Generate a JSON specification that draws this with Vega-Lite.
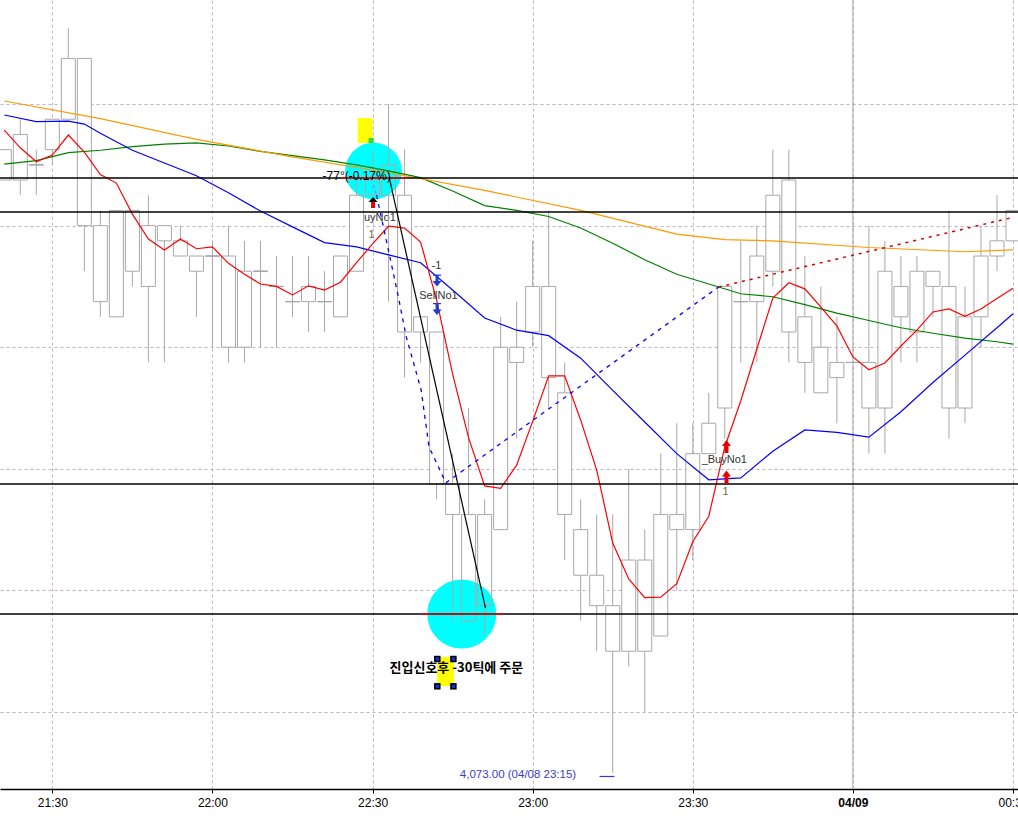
{
"$schema": "https://vega.github.io/schema/vega-lite/v6.json",
"width": 1018, "height": 789,
"autosize": {"type": "none"},
"padding": {"left": 0, "top": 0, "right": 0, "bottom": 28},
"background": "white",
"config": {"view": {"stroke": null},
 "axisX": {"labelFlush": false, "labelOverlap": false, "labelFont": "Liberation Sans", "labelFontSize": 12, "labelColor": "#000000", "labelPadding": 4, "grid": true, "gridDash": [3,3], "gridColor": "#c4b0c4", "gridWidth": 1, "domainColor": "#000000", "domainWidth": 1.5, "tickColor": "#000000", "tickSize": 4, "title": null},
 "axisY": {"labels": false, "ticks": false, "domain": false, "grid": true, "gridDash": [3,3], "gridColor": "#c4b0c4", "gridWidth": 1, "title": null}},
"datasets": {
"candles": [
{"t":"2021-04-08T21:21:00Z","high":4083.25,"low":4082.75,"top":4083.25,"bottom":4082.75},
{"t":"2021-04-08T21:24:00Z","high":4083.75,"low":4082.5,"top":4083.5,"bottom":4082.75},
{"t":"2021-04-08T21:27:00Z","high":4083.25,"low":4082.5,"top":4083.0,"bottom":4083.0},
{"t":"2021-04-08T21:30:00Z","high":4083.75,"low":4083.0,"top":4083.75,"bottom":4083.25},
{"t":"2021-04-08T21:33:00Z","high":4085.25,"low":4083.75,"top":4084.75,"bottom":4083.75},
{"t":"2021-04-08T21:36:00Z","high":4084.75,"low":4081.25,"top":4084.75,"bottom":4082.0},
{"t":"2021-04-08T21:39:00Z","high":4082.25,"low":4080.5,"top":4082.0,"bottom":4080.75},
{"t":"2021-04-08T21:42:00Z","high":4082.25,"low":4080.5,"top":4082.25,"bottom":4080.5},
{"t":"2021-04-08T21:45:00Z","high":4082.25,"low":4081.0,"top":4082.25,"bottom":4081.25},
{"t":"2021-04-08T21:48:00Z","high":4082.5,"low":4079.75,"top":4082.0,"bottom":4081.0},
{"t":"2021-04-08T21:51:00Z","high":4082.0,"low":4079.75,"top":4082.0,"bottom":4081.75},
{"t":"2021-04-08T21:54:00Z","high":4082.0,"low":4081.5,"top":4081.75,"bottom":4081.5},
{"t":"2021-04-08T21:57:00Z","high":4081.5,"low":4080.5,"top":4081.5,"bottom":4081.25},
{"t":"2021-04-08T22:00:00Z","high":4081.75,"low":4080.0,"top":4081.5,"bottom":4081.5},
{"t":"2021-04-08T22:03:00Z","high":4082.0,"low":4079.75,"top":4081.5,"bottom":4080.0},
{"t":"2021-04-08T22:06:00Z","high":4081.75,"low":4079.75,"top":4081.25,"bottom":4080.0},
{"t":"2021-04-08T22:09:00Z","high":4081.75,"low":4080.0,"top":4081.25,"bottom":4081.25},
{"t":"2021-04-08T22:12:00Z","high":4081.5,"low":4080.0,"top":4081.0,"bottom":4081.0},
{"t":"2021-04-08T22:15:00Z","high":4081.5,"low":4080.5,"top":4080.75,"bottom":4080.75},
{"t":"2021-04-08T22:18:00Z","high":4081.5,"low":4080.25,"top":4081.0,"bottom":4080.75},
{"t":"2021-04-08T22:21:00Z","high":4081.25,"low":4080.25,"top":4080.75,"bottom":4080.75},
{"t":"2021-04-08T22:24:00Z","high":4081.5,"low":4080.5,"top":4081.5,"bottom":4080.5},
{"t":"2021-04-08T22:27:00Z","high":4082.75,"low":4081.25,"top":4082.5,"bottom":4081.25},
{"t":"2021-04-08T22:30:00Z","high":4083.25,"low":4082.5,"top":4082.75,"bottom":4082.5},
{"t":"2021-04-08T22:33:00Z","high":4084.0,"low":4080.75,"top":4083.0,"bottom":4082.5},
{"t":"2021-04-08T22:36:00Z","high":4083.25,"low":4079.5,"top":4082.5,"bottom":4080.25},
{"t":"2021-04-08T22:39:00Z","high":4080.5,"low":4079.75,"top":4080.5,"bottom":4080.25},
{"t":"2021-04-08T22:42:00Z","high":4080.25,"low":4077.5,"top":4080.25,"bottom":4077.75},
{"t":"2021-04-08T22:45:00Z","high":4078.25,"low":4075.5,"top":4077.75,"bottom":4077.25},
{"t":"2021-04-08T22:48:00Z","high":4079.0,"low":4075.5,"top":4077.25,"bottom":4075.5},
{"t":"2021-04-08T22:51:00Z","high":4077.5,"low":4075.25,"top":4077.25,"bottom":4075.75},
{"t":"2021-04-08T22:54:00Z","high":4080.5,"low":4077.0,"top":4080.0,"bottom":4077.0},
{"t":"2021-04-08T22:57:00Z","high":4080.75,"low":4078.5,"top":4080.0,"bottom":4079.75},
{"t":"2021-04-08T23:00:00Z","high":4081.75,"low":4080.0,"top":4081.0,"bottom":4080.25},
{"t":"2021-04-08T23:03:00Z","high":4082.25,"low":4079.0,"top":4081.0,"bottom":4079.5},
{"t":"2021-04-08T23:06:00Z","high":4079.75,"low":4076.5,"top":4079.25,"bottom":4077.25},
{"t":"2021-04-08T23:09:00Z","high":4077.5,"low":4075.5,"top":4077.0,"bottom":4076.25},
{"t":"2021-04-08T23:12:00Z","high":4077.25,"low":4075.0,"top":4076.25,"bottom":4075.75},
{"t":"2021-04-08T23:15:00Z","high":4077.25,"low":4073.0,"top":4075.75,"bottom":4075.0},
{"t":"2021-04-08T23:18:00Z","high":4078.0,"low":4074.75,"top":4076.5,"bottom":4075.0},
{"t":"2021-04-08T23:21:00Z","high":4077.0,"low":4074.0,"top":4076.5,"bottom":4075.0},
{"t":"2021-04-08T23:24:00Z","high":4078.25,"low":4075.25,"top":4077.25,"bottom":4075.25},
{"t":"2021-04-08T23:27:00Z","high":4078.75,"low":4076.0,"top":4077.25,"bottom":4077.0},
{"t":"2021-04-08T23:30:00Z","high":4078.75,"low":4076.5,"top":4078.25,"bottom":4077.0},
{"t":"2021-04-08T23:33:00Z","high":4079.25,"low":4078.25,"top":4078.75,"bottom":4078.25},
{"t":"2021-04-08T23:36:00Z","high":4081.0,"low":4078.5,"top":4081.0,"bottom":4079.0},
{"t":"2021-04-08T23:39:00Z","high":4081.75,"low":4079.75,"top":4080.75,"bottom":4080.75},
{"t":"2021-04-08T23:42:00Z","high":4082.0,"low":4079.75,"top":4081.5,"bottom":4080.75},
{"t":"2021-04-08T23:45:00Z","high":4083.25,"low":4081.0,"top":4082.5,"bottom":4081.25},
{"t":"2021-04-08T23:48:00Z","high":4083.25,"low":4079.75,"top":4082.75,"bottom":4080.25},
{"t":"2021-04-08T23:51:00Z","high":4081.5,"low":4079.25,"top":4080.5,"bottom":4079.75},
{"t":"2021-04-08T23:54:00Z","high":4081.0,"low":4079.25,"top":4080.0,"bottom":4079.25},
{"t":"2021-04-08T23:57:00Z","high":4080.5,"low":4078.75,"top":4079.75,"bottom":4079.5},
{"t":"2021-04-09T00:00:00Z","high":4079.75,"low":4079.75,"top":4079.75,"bottom":4079.75},
{"t":"2021-04-09T00:03:00Z","high":4082.0,"low":4078.25,"top":4079.75,"bottom":4079.0},
{"t":"2021-04-09T00:06:00Z","high":4081.75,"low":4078.25,"top":4081.25,"bottom":4079.0},
{"t":"2021-04-09T00:09:00Z","high":4081.5,"low":4079.75,"top":4081.0,"bottom":4080.5},
{"t":"2021-04-09T00:12:00Z","high":4081.5,"low":4079.75,"top":4081.25,"bottom":4080.25},
{"t":"2021-04-09T00:15:00Z","high":4081.25,"low":4080.5,"top":4081.25,"bottom":4081.0},
{"t":"2021-04-09T00:18:00Z","high":4082.25,"low":4078.5,"top":4081.0,"bottom":4079.0},
{"t":"2021-04-09T00:21:00Z","high":4081.0,"low":4078.75,"top":4080.5,"bottom":4079.0},
{"t":"2021-04-09T00:24:00Z","high":4082.0,"low":4080.0,"top":4081.5,"bottom":4080.5},
{"t":"2021-04-09T00:27:00Z","high":4082.5,"low":4081.25,"top":4081.75,"bottom":4081.5},
{"t":"2021-04-09T00:30:00Z","high":4082.25,"low":4081.75,"top":4082.25,"bottom":4081.75}
],
"orange": [
{"t":"2021-04-08T21:21:00Z","p":4084.05},{"t":"2021-04-08T21:39:00Z","p":4083.76},{"t":"2021-04-08T21:57:00Z","p":4083.42},{"t":"2021-04-08T22:15:00Z","p":4083.13},{"t":"2021-04-08T22:33:00Z","p":4082.87},{"t":"2021-04-08T22:51:00Z","p":4082.58},{"t":"2021-04-08T23:09:00Z","p":4082.25},{"t":"2021-04-08T23:27:00Z","p":4081.86},{"t":"2021-04-08T23:36:00Z","p":4081.77},{"t":"2021-04-08T23:45:00Z","p":4081.75},{"t":"2021-04-09T00:03:00Z","p":4081.64},{"t":"2021-04-09T00:21:00Z","p":4081.57},{"t":"2021-04-09T00:30:00Z","p":4081.6}
],
"green": [
{"t":"2021-04-08T21:21:00Z","p":4083.01},{"t":"2021-04-08T21:27:00Z","p":4083.07},{"t":"2021-04-08T21:33:00Z","p":4083.2},{"t":"2021-04-08T21:39:00Z","p":4083.24},{"t":"2021-04-08T21:45:00Z","p":4083.3},{"t":"2021-04-08T21:51:00Z","p":4083.34},{"t":"2021-04-08T21:57:00Z","p":4083.36},{"t":"2021-04-08T22:03:00Z","p":4083.31},{"t":"2021-04-08T22:09:00Z","p":4083.22},{"t":"2021-04-08T22:15:00Z","p":4083.15},{"t":"2021-04-08T22:21:00Z","p":4083.08},{"t":"2021-04-08T22:27:00Z","p":4083.0},{"t":"2021-04-08T22:33:00Z","p":4082.9},{"t":"2021-04-08T22:39:00Z","p":4082.79},{"t":"2021-04-08T22:45:00Z","p":4082.57},{"t":"2021-04-08T22:51:00Z","p":4082.33},{"t":"2021-04-08T22:57:00Z","p":4082.25},{"t":"2021-04-08T23:03:00Z","p":4082.15},{"t":"2021-04-08T23:09:00Z","p":4081.96},{"t":"2021-04-08T23:15:00Z","p":4081.71},{"t":"2021-04-08T23:21:00Z","p":4081.44},{"t":"2021-04-08T23:27:00Z","p":4081.2},{"t":"2021-04-08T23:33:00Z","p":4081.04},{"t":"2021-04-08T23:39:00Z","p":4080.88},{"t":"2021-04-08T23:45:00Z","p":4080.83},{"t":"2021-04-08T23:51:00Z","p":4080.7},{"t":"2021-04-08T23:57:00Z","p":4080.56},{"t":"2021-04-09T00:03:00Z","p":4080.44},{"t":"2021-04-09T00:09:00Z","p":4080.32},{"t":"2021-04-09T00:15:00Z","p":4080.23},{"t":"2021-04-09T00:21:00Z","p":4080.15},{"t":"2021-04-09T00:27:00Z","p":4080.09},{"t":"2021-04-09T00:30:00Z","p":4080.05}
],
"blue": [
{"t":"2021-04-08T21:21:00Z","p":4083.82},{"t":"2021-04-08T21:27:00Z","p":4083.71},{"t":"2021-04-08T21:33:00Z","p":4083.72},{"t":"2021-04-08T21:36:00Z","p":4083.67},{"t":"2021-04-08T21:39:00Z","p":4083.52},{"t":"2021-04-08T21:45:00Z","p":4083.24},{"t":"2021-04-08T21:51:00Z","p":4083.03},{"t":"2021-04-08T21:57:00Z","p":4082.82},{"t":"2021-04-08T22:03:00Z","p":4082.54},{"t":"2021-04-08T22:09:00Z","p":4082.24},{"t":"2021-04-08T22:15:00Z","p":4081.98},{"t":"2021-04-08T22:21:00Z","p":4081.72},{"t":"2021-04-08T22:27:00Z","p":4081.65},{"t":"2021-04-08T22:33:00Z","p":4081.52},{"t":"2021-04-08T22:39:00Z","p":4081.39},{"t":"2021-04-08T22:45:00Z","p":4080.94},{"t":"2021-04-08T22:51:00Z","p":4080.48},{"t":"2021-04-08T22:57:00Z","p":4080.28},{"t":"2021-04-08T23:03:00Z","p":4080.19},{"t":"2021-04-08T23:09:00Z","p":4079.82},{"t":"2021-04-08T23:15:00Z","p":4079.29},{"t":"2021-04-08T23:21:00Z","p":4078.77},{"t":"2021-04-08T23:27:00Z","p":4078.25},{"t":"2021-04-08T23:33:00Z","p":4077.82},{"t":"2021-04-08T23:39:00Z","p":4077.85},{"t":"2021-04-08T23:45:00Z","p":4078.29},{"t":"2021-04-08T23:51:00Z","p":4078.64},{"t":"2021-04-08T23:57:00Z","p":4078.6},{"t":"2021-04-09T00:03:00Z","p":4078.52},{"t":"2021-04-09T00:09:00Z","p":4078.94},{"t":"2021-04-09T00:15:00Z","p":4079.42},{"t":"2021-04-09T00:21:00Z","p":4079.87},{"t":"2021-04-09T00:27:00Z","p":4080.32},{"t":"2021-04-09T00:30:00Z","p":4080.55}
],
"red": [
{"t":"2021-04-08T21:21:00Z","p":4083.57},{"t":"2021-04-08T21:24:00Z","p":4083.28},{"t":"2021-04-08T21:27:00Z","p":4083.05},{"t":"2021-04-08T21:30:00Z","p":4083.16},{"t":"2021-04-08T21:33:00Z","p":4083.49},{"t":"2021-04-08T21:36:00Z","p":4083.21},{"t":"2021-04-08T21:39:00Z","p":4082.84},{"t":"2021-04-08T21:42:00Z","p":4082.7},{"t":"2021-04-08T21:45:00Z","p":4082.19},{"t":"2021-04-08T21:48:00Z","p":4081.78},{"t":"2021-04-08T21:51:00Z","p":4081.6},{"t":"2021-04-08T21:54:00Z","p":4081.78},{"t":"2021-04-08T21:57:00Z","p":4081.62},{"t":"2021-04-08T22:00:00Z","p":4081.65},{"t":"2021-04-08T22:03:00Z","p":4081.38},{"t":"2021-04-08T22:06:00Z","p":4081.2},{"t":"2021-04-08T22:09:00Z","p":4081.04},{"t":"2021-04-08T22:12:00Z","p":4081.0},{"t":"2021-04-08T22:15:00Z","p":4080.86},{"t":"2021-04-08T22:18:00Z","p":4081.01},{"t":"2021-04-08T22:21:00Z","p":4080.94},{"t":"2021-04-08T22:24:00Z","p":4081.07},{"t":"2021-04-08T22:27:00Z","p":4081.39},{"t":"2021-04-08T22:30:00Z","p":4081.7},{"t":"2021-04-08T22:33:00Z","p":4081.99},{"t":"2021-04-08T22:36:00Z","p":4081.96},{"t":"2021-04-08T22:39:00Z","p":4081.73},{"t":"2021-04-08T22:42:00Z","p":4080.78},{"t":"2021-04-08T22:45:00Z","p":4079.56},{"t":"2021-04-08T22:48:00Z","p":4078.51},{"t":"2021-04-08T22:51:00Z","p":4077.72},{"t":"2021-04-08T22:54:00Z","p":4077.68},{"t":"2021-04-08T22:57:00Z","p":4078.06},{"t":"2021-04-08T23:00:00Z","p":4078.78},{"t":"2021-04-08T23:03:00Z","p":4079.53},{"t":"2021-04-08T23:06:00Z","p":4079.53},{"t":"2021-04-08T23:09:00Z","p":4078.8},{"t":"2021-04-08T23:12:00Z","p":4077.98},{"t":"2021-04-08T23:15:00Z","p":4076.78},{"t":"2021-04-08T23:18:00Z","p":4076.19},{"t":"2021-04-08T23:21:00Z","p":4075.88},{"t":"2021-04-08T23:24:00Z","p":4075.89},{"t":"2021-04-08T23:27:00Z","p":4076.11},{"t":"2021-04-08T23:30:00Z","p":4076.8},{"t":"2021-04-08T23:33:00Z","p":4077.22},{"t":"2021-04-08T23:36:00Z","p":4078.36},{"t":"2021-04-08T23:39:00Z","p":4079.12},{"t":"2021-04-08T23:42:00Z","p":4079.97},{"t":"2021-04-08T23:45:00Z","p":4080.81},{"t":"2021-04-08T23:48:00Z","p":4081.06},{"t":"2021-04-08T23:51:00Z","p":4080.96},{"t":"2021-04-08T23:54:00Z","p":4080.66},{"t":"2021-04-08T23:57:00Z","p":4080.35},{"t":"2021-04-09T00:00:00Z","p":4079.84},{"t":"2021-04-09T00:03:00Z","p":4079.63},{"t":"2021-04-09T00:06:00Z","p":4079.74},{"t":"2021-04-09T00:09:00Z","p":4080.02},{"t":"2021-04-09T00:12:00Z","p":4080.28},{"t":"2021-04-09T00:15:00Z","p":4080.58},{"t":"2021-04-09T00:18:00Z","p":4080.63},{"t":"2021-04-09T00:21:00Z","p":4080.51},{"t":"2021-04-09T00:24:00Z","p":4080.63},{"t":"2021-04-09T00:27:00Z","p":4080.8},{"t":"2021-04-09T00:30:00Z","p":4080.97}
],
"hlines": [{"p":4082.783},{"p":4082.224},{"p":4077.75},{"p":4075.612}],
"dayline": [{"t":"2021-04-09T00:00:00Z"}],
"zig": [
{"t":"2021-04-08T22:30:45Z","p":4082.5},{"t":"2021-04-08T22:32:58Z","p":4081.6},{"t":"2021-04-08T22:34:50Z","p":4080.83},{"t":"2021-04-08T22:36:19Z","p":4080.17},{"t":"2021-04-08T22:39:06Z","p":4079.3},{"t":"2021-04-08T22:40:35Z","p":4078.36},{"t":"2021-04-08T22:43:45Z","p":4077.77},{"t":"2021-04-08T23:34:50Z","p":4080.99}
],
"zigred": [{"t":"2021-04-08T23:34:50Z","p":4080.99},{"t":"2021-04-09T00:30:11Z","p":4082.14}],
"pink": [{"t":"2021-04-08T22:30:08Z","p":4082.67},{"t":"2021-04-08T22:30:45Z","p":4082.5}],
"trend": [{"t":"2021-04-08T22:33:09Z","p":4082.78},{"t":"2021-04-08T22:51:10Z","p":4075.71}],
"circTop": [{"t":"2021-04-08T22:30:11Z","p":4082.898}],
"circBot": [{"t":"2021-04-08T22:46:43Z","p":4075.612}],
"redSeg": [{"t":"2021-04-08T22:24:15Z","t2":"2021-04-08T22:36:08Z","p":4082.783},{"t":"2021-04-08T22:39:06Z","t2":"2021-04-08T22:54:20Z","p":4075.612}],
"yellowTop": [{"t":"2021-04-08T22:27:13Z","t2":"2021-04-08T22:30:00Z","p":4083.77,"p2":4083.359}],
"greenTop": [{"t":"2021-04-08T22:29:15Z","t2":"2021-04-08T22:30:11Z","p":4083.441,"p2":4083.359}],
"yellowHu": [{"t":"2021-04-08T22:42:05Z","t2":"2021-04-08T22:45:14Z","p":4074.905,"p2":4074.428}],
"handles": [{"t":"2021-04-08T22:42:08Z","p":4074.872},{"t":"2021-04-08T22:45:09Z","p":4074.872},{"t":"2021-04-08T22:42:08Z","p":4074.423},{"t":"2021-04-08T22:45:09Z","p":4074.423}],
"angleText": [{"t":"2021-04-08T22:27:01Z","p":4082.82,"label":"-77°(-0.17%)"}],
"buyText": [{"t":"2021-04-08T22:27:01Z","p":4082.125,"label":"BuyNo1"}],
"sigText": [{"t":"2021-04-08T22:42:00Z","p":4081.336,"label":"-1"},{"t":"2021-04-08T22:42:21Z","p":4080.842,"label":"SellNo1"}],
"buy2Text": [{"t":"2021-04-08T23:31:40Z","p":4078.145,"label":"_BuyNo1"}],
"qtyText": [{"t":"2021-04-08T22:29:49Z","p":4081.845,"label":"1"},{"t":"2021-04-08T23:36:08Z","p":4077.618,"label":"1"}],
"korText": [{"t":"2021-04-08T22:45:42Z","p":4074.724,"label":"진입신호후 -30틱에 주문"}],
"lowText": [{"t":"2021-04-08T22:46:21Z","p":4072.964,"label":"4,073.00 (04/08 23:15)"}],
"lowLine": [{"t":"2021-04-08T23:12:32Z","t2":"2021-04-08T23:15:19Z","p":4072.94}],
"blackHead": [{"t":"2021-04-08T22:30:06Z","p":4082.429}],
"redShaft": [{"t":"2021-04-08T22:30:06Z","p":4082.339}],
"redUp": [{"t":"2021-04-08T23:36:19Z","p":4078.367},{"t":"2021-04-08T23:36:19Z","p":4077.865}],
"blueDown": [{"t":"2021-04-08T22:42:05Z","p":4081.097},{"t":"2021-04-08T22:42:05Z","p":4080.628}]
},
"layer": [
{"data":{"name":"buyText"},"mark":{"type":"text","align":"left","baseline":"middle","font":"Liberation Sans","fontSize":11,"color":"#333333"},
 "encoding":{
  "x":{"field":"t","type":"temporal","title":null,"scale":{"type":"utc","domain":[{"year":2021,"month":4,"date":8,"hours":21,"minutes":21,"seconds":8,"utc":true},{"year":2021,"month":4,"date":9,"hours":0,"minutes":30,"seconds":0,"utc":true}]},
   "axis":{"values":[{"year":2021,"month":4,"date":8,"hours":21,"minutes":30,"utc":true},{"year":2021,"month":4,"date":8,"hours":22,"minutes":0,"utc":true},{"year":2021,"month":4,"date":8,"hours":22,"minutes":30,"utc":true},{"year":2021,"month":4,"date":8,"hours":23,"minutes":0,"utc":true},{"year":2021,"month":4,"date":8,"hours":23,"minutes":30,"utc":true},{"year":2021,"month":4,"date":9,"hours":0,"minutes":0,"utc":true},{"year":2021,"month":4,"date":9,"hours":0,"minutes":30,"utc":true}],
    "labelExpr":"utcFormat(datum.value, '%H:%M') == '00:00' ? '04/09' : utcFormat(datum.value, '%H:%M')",
    "labelFontWeight":{"condition":{"test":"utchours(datum.value) == 0 && utcminutes(datum.value) == 0","value":"bold"},"value":"normal"},
    "title":null}},
  "y":{"field":"p","type":"quantitative","title":null,"scale":{"domain":[4072.734,4085.711],"nice":false,"zero":false},
   "axis":{"values":[4074,4076,4078,4080,4082,4084],"title":null}},
  "text":{"field":"label"}}},
{"data":{"name":"candles"},"mark":{"type":"bar","size":14,"fill":"white","strokeWidth":0,"clip":true},
 "encoding":{"x":{"field":"t","type":"temporal","title":null},"y":{"field":"top","type":"quantitative","title":null},"y2":{"field":"bottom"}}},
{"data":{"name":"dayline"},"mark":{"type":"rule","color":"#a8a8a8","strokeWidth":1},
 "encoding":{"x":{"field":"t","type":"temporal","title":null}}},
{"data":{"name":"circTop"},"mark":{"type":"circle","size":3217,"color":"#00ffff","opacity":1},
 "encoding":{"x":{"field":"t","type":"temporal","title":null},"y":{"field":"p","type":"quantitative","title":null}}},
{"data":{"name":"circBot"},"mark":{"type":"circle","size":4778,"color":"#00ffff","opacity":1},
 "encoding":{"x":{"field":"t","type":"temporal","title":null},"y":{"field":"p","type":"quantitative","title":null}}},
{"data":{"name":"yellowTop"},"mark":{"type":"rect","color":"#ffff00"},
 "encoding":{"x":{"field":"t","type":"temporal","title":null},"x2":{"field":"t2"},"y":{"field":"p","type":"quantitative","title":null},"y2":{"field":"p2"}}},
{"data":{"name":"greenTop"},"mark":{"type":"rect","color":"#33dd33"},
 "encoding":{"x":{"field":"t","type":"temporal","title":null},"x2":{"field":"t2"},"y":{"field":"p","type":"quantitative","title":null},"y2":{"field":"p2"}}},
{"data":{"name":"candles"},"mark":{"type":"rule","color":"#a8a8a8","strokeWidth":1,"clip":true},
 "encoding":{"x":{"field":"t","type":"temporal","title":null},"y":{"field":"high","type":"quantitative","title":null},"y2":{"field":"top"}}},
{"data":{"name":"candles"},"mark":{"type":"rule","color":"#a8a8a8","strokeWidth":1,"clip":true},
 "encoding":{"x":{"field":"t","type":"temporal","title":null},"y":{"field":"bottom","type":"quantitative","title":null},"y2":{"field":"low"}}},
{"data":{"name":"candles"},"mark":{"type":"bar","size":14,"fill":"transparent","stroke":"#a8a8a8","strokeWidth":1,"clip":true},
 "encoding":{"x":{"field":"t","type":"temporal","title":null},"y":{"field":"top","type":"quantitative","title":null},"y2":{"field":"bottom"}}},
{"data":{"name":"candles"},"transform":[{"filter":"datum.top == datum.bottom"}],"mark":{"type":"tick","orient":"horizontal","size":15,"thickness":1,"color":"#a8a8a8","opacity":1,"clip":true},
 "encoding":{"x":{"field":"t","type":"temporal","title":null},"y":{"field":"top","type":"quantitative","title":null}}},
{"data":{"name":"green"},"mark":{"type":"line","color":"#008000","strokeWidth":1.2,"clip":true},
 "encoding":{"x":{"field":"t","type":"temporal","title":null},"y":{"field":"p","type":"quantitative","title":null}}},
{"data":{"name":"orange"},"mark":{"type":"line","color":"#ff9900","strokeWidth":1.2,"clip":true},
 "encoding":{"x":{"field":"t","type":"temporal","title":null},"y":{"field":"p","type":"quantitative","title":null}}},
{"data":{"name":"blue"},"mark":{"type":"line","color":"#0000ff","strokeWidth":1.2,"clip":true},
 "encoding":{"x":{"field":"t","type":"temporal","title":null},"y":{"field":"p","type":"quantitative","title":null}}},
{"data":{"name":"red"},"mark":{"type":"line","color":"#ff0000","strokeWidth":1.2,"clip":true},
 "encoding":{"x":{"field":"t","type":"temporal","title":null},"y":{"field":"p","type":"quantitative","title":null}}},
{"data":{"name":"hlines"},"mark":{"type":"rule","color":"#000000","strokeWidth":1.4},
 "encoding":{"y":{"field":"p","type":"quantitative","title":null}}},
{"data":{"name":"redSeg"},"mark":{"type":"rule","color":"#ff0000","strokeWidth":1.4},
 "encoding":{"x":{"field":"t","type":"temporal","title":null},"x2":{"field":"t2"},"y":{"field":"p","type":"quantitative","title":null}}},
{"data":{"name":"pink"},"mark":{"type":"line","color":"#ff44ff","strokeWidth":1.3,"strokeDash":[3,3]},
 "encoding":{"x":{"field":"t","type":"temporal","title":null},"y":{"field":"p","type":"quantitative","title":null}}},
{"data":{"name":"zig"},"mark":{"type":"line","color":"#0000ff","strokeWidth":1.3,"strokeDash":[4,5]},
 "encoding":{"x":{"field":"t","type":"temporal","title":null},"y":{"field":"p","type":"quantitative","title":null}}},
{"data":{"name":"zigred"},"mark":{"type":"line","color":"#d00000","strokeWidth":1.5,"strokeDash":[3,5],"clip":true},
 "encoding":{"x":{"field":"t","type":"temporal","title":null},"y":{"field":"p","type":"quantitative","title":null}}},
{"data":{"name":"trend"},"mark":{"type":"line","color":"#000000","strokeWidth":1.2},
 "encoding":{"x":{"field":"t","type":"temporal","title":null},"y":{"field":"p","type":"quantitative","title":null}}},
{"data":{"name":"angleText"},"mark":{"type":"text","align":"center","baseline":"middle","font":"Liberation Sans","fontSize":12,"color":"#000000"},
 "encoding":{"x":{"field":"t","type":"temporal","title":null},"y":{"field":"p","type":"quantitative","title":null},"text":{"field":"label"}}},
{"data":{"name":"qtyText"},"mark":{"type":"text","align":"center","baseline":"middle","font":"Liberation Sans","fontSize":11,"color":"#806040"},
 "encoding":{"x":{"field":"t","type":"temporal","title":null},"y":{"field":"p","type":"quantitative","title":null},"text":{"field":"label"}}},
{"data":{"name":"sigText"},"mark":{"type":"text","align":"center","baseline":"middle","font":"Liberation Sans","fontSize":11,"color":"#333333"},
 "encoding":{"x":{"field":"t","type":"temporal","title":null},"y":{"field":"p","type":"quantitative","title":null},"text":{"field":"label"}}},
{"data":{"name":"buy2Text"},"mark":{"type":"text","align":"left","baseline":"middle","font":"Liberation Sans","fontSize":11,"color":"#333333"},
 "encoding":{"x":{"field":"t","type":"temporal","title":null},"y":{"field":"p","type":"quantitative","title":null},"text":{"field":"label"}}},
{"data":{"name":"blackHead"},"mark":{"type":"point","shape":"M0,-0.5L0.9,0.5L-0.9,0.5Z","size":100,"filled":true,"color":"#000000","opacity":1,"strokeWidth":0},
 "encoding":{"x":{"field":"t","type":"temporal","title":null},"y":{"field":"p","type":"quantitative","title":null}}},
{"data":{"name":"redShaft"},"mark":{"type":"point","shape":"M-0.4,-0.6L0.4,-0.6L0.4,0.6L-0.4,0.6Z","size":100,"filled":true,"color":"#e00000","opacity":1,"strokeWidth":0},
 "encoding":{"x":{"field":"t","type":"temporal","title":null},"y":{"field":"p","type":"quantitative","title":null}}},
{"data":{"name":"redUp"},"mark":{"type":"point","shape":"M0,-1.3L0.9,-0.1L0.4,-0.1L0.4,1.3L-0.4,1.3L-0.4,-0.1L-0.9,-0.1Z","size":100,"filled":true,"color":"#e00000","opacity":1,"strokeWidth":0},
 "encoding":{"x":{"field":"t","type":"temporal","title":null},"y":{"field":"p","type":"quantitative","title":null}}},
{"data":{"name":"blueDown"},"mark":{"type":"point","shape":"M-0.8,-1.2L0.8,-1.2L0.8,-0.95L0.3,-0.95L0.3,0.1L0.9,0.1L0,1.2L-0.9,0.1L-0.3,0.1L-0.3,-0.95L-0.8,-0.95Z","size":100,"filled":true,"color":"#1c3fd0","opacity":1,"strokeWidth":0},
 "encoding":{"x":{"field":"t","type":"temporal","title":null},"y":{"field":"p","type":"quantitative","title":null}}},
{"data":{"name":"yellowHu"},"mark":{"type":"rect","color":"#ffff00"},
 "encoding":{"x":{"field":"t","type":"temporal","title":null},"x2":{"field":"t2"},"y":{"field":"p","type":"quantitative","title":null},"y2":{"field":"p2"}}},
{"data":{"name":"korText"},"mark":{"type":"text","align":"center","baseline":"middle","font":"Noto Sans CJK KR","fontSize":13,"fontWeight":"bold","color":"#000000"},
 "encoding":{"x":{"field":"t","type":"temporal","title":null},"y":{"field":"p","type":"quantitative","title":null},"text":{"field":"label"}}},
{"data":{"name":"handles"},"mark":{"type":"square","size":42,"color":"#000000","opacity":1},
 "encoding":{"x":{"field":"t","type":"temporal","title":null},"y":{"field":"p","type":"quantitative","title":null}}},
{"data":{"name":"handles"},"mark":{"type":"square","size":12,"color":"#1030e0","opacity":1},
 "encoding":{"x":{"field":"t","type":"temporal","title":null},"y":{"field":"p","type":"quantitative","title":null}}},
{"data":{"name":"lowText"},"mark":{"type":"text","align":"left","baseline":"middle","font":"Liberation Sans","fontSize":11.5,"color":"#3c3cc8"},
 "encoding":{"x":{"field":"t","type":"temporal","title":null},"y":{"field":"p","type":"quantitative","title":null},"text":{"field":"label"}}},
{"data":{"name":"lowLine"},"mark":{"type":"rule","color":"#3c3cc8","strokeWidth":1.2},
 "encoding":{"x":{"field":"t","type":"temporal","title":null},"x2":{"field":"t2"},"y":{"field":"p","type":"quantitative","title":null}}}
]
}
